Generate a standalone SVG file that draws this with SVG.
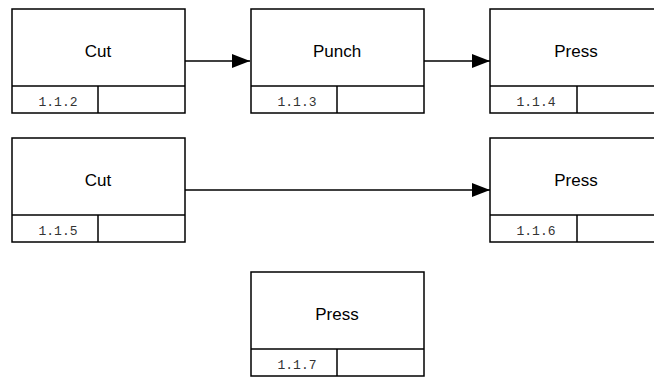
<svg xmlns="http://www.w3.org/2000/svg" width="654" height="377" viewBox="0 0 654 377">
<style>
.b{fill:#fff;stroke:#000;stroke-width:1.5}
.l{stroke:#000;stroke-width:1.5;fill:none}
.t{font-family:"Liberation Sans",Arial,sans-serif;font-size:17px;text-anchor:middle;fill:#000}
.c{font-family:"Liberation Mono","Courier New",monospace;font-size:13px;text-anchor:middle;fill:#333}
</style>
<defs>
<marker id="a" markerWidth="18" markerHeight="14" refX="18" refY="7" orient="auto" markerUnits="userSpaceOnUse">
<path d="M0,0 L18,7 L0,14 Z" fill="#000"/>
</marker>
</defs>
<rect width="654" height="377" fill="#fff"/>
<g id="connectors">
<line class="l" x1="185" y1="61" x2="250" y2="61" marker-end="url(#a)"/>
<line class="l" x1="424" y1="61" x2="490" y2="61" marker-end="url(#a)"/>
<line class="l" x1="185" y1="190" x2="490" y2="190" marker-end="url(#a)"/>
</g>
<g id="n112">
<rect class="b" x="12" y="9" width="173" height="104"/>
<line class="l" x1="12" y1="86" x2="185" y2="86"/>
<line class="l" x1="98" y1="86" x2="98" y2="113"/>
<text class="t" x="98" y="57">Cut</text>
<text class="c" x="58" y="106">1.1.2</text>
</g>
<g id="n113">
<rect class="b" x="251" y="9" width="173" height="104"/>
<line class="l" x1="251" y1="86" x2="424" y2="86"/>
<line class="l" x1="337" y1="86" x2="337" y2="113"/>
<text class="t" x="337" y="57">Punch</text>
<text class="c" x="297" y="106">1.1.3</text>
</g>
<g id="n114">
<rect class="b" x="490" y="9" width="173" height="104"/>
<line class="l" x1="490" y1="86" x2="663" y2="86"/>
<line class="l" x1="577" y1="86" x2="577" y2="113"/>
<text class="t" x="576" y="57">Press</text>
<text class="c" x="536" y="106">1.1.4</text>
</g>
<g id="n115">
<rect class="b" x="12" y="138" width="173" height="104"/>
<line class="l" x1="12" y1="215" x2="185" y2="215"/>
<line class="l" x1="98" y1="215" x2="98" y2="242"/>
<text class="t" x="98" y="186">Cut</text>
<text class="c" x="58" y="235">1.1.5</text>
</g>
<g id="n116">
<rect class="b" x="490" y="138" width="173" height="104"/>
<line class="l" x1="490" y1="215" x2="663" y2="215"/>
<line class="l" x1="577" y1="215" x2="577" y2="242"/>
<text class="t" x="576" y="186">Press</text>
<text class="c" x="536" y="235">1.1.6</text>
</g>
<g id="n117">
<rect class="b" x="251" y="272" width="173" height="104"/>
<line class="l" x1="251" y1="349" x2="424" y2="349"/>
<line class="l" x1="337" y1="349" x2="337" y2="376"/>
<text class="t" x="337" y="320">Press</text>
<text class="c" x="297" y="369">1.1.7</text>
</g>
</svg>
